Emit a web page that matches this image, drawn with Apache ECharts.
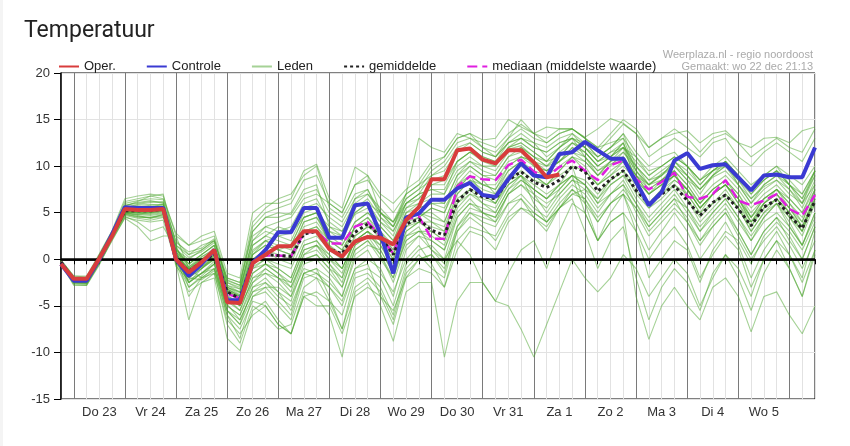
<!DOCTYPE html>
<html lang="nl">
<head>
    <meta charset="utf-8"/>
    <title>Temperatuur</title>
    <script src="https://cdn.jsdelivr.net/npm/echarts@6.0.0/dist/echarts.min.js"></script>
    <style>
        html, body { margin: 0; padding: 0; background: #f4f4f4; }
        #chart { position: absolute; left: 3px; top: 0; width: 847px; height: 446px; background: #fff; }
    </style>
</head>
<body>
<div id="chart"></div>

<script type="text/javascript">
    // dagen: de eerste stap is wo 22 18u, daarna elke 6 uur
    var days = ['Wo 22', 'Do 23', 'Vr 24', 'Za 25', 'Zo 26', 'Ma 27', 'Di 28', 'Wo 29',
        'Do 30', 'Vr 31', 'Za 1', 'Zo 2', 'Ma 3', 'Di 4', 'Wo 5', 'Do 6'];
    var hours = [18, 0, 6, 12];
    var yTicks = [-15, -10, -5, 0, 5, 10, 15, 20];

    // operationele run (stopt na za 1 06u)
    var oper = [-0.5,
        -2.1, -2.1, 0.1, 2.5, 5.4, 5.3, 5.3, 5.4, 0.0, -1.4, -0.3, 1.0,
        -4.6, -4.7, -0.4, 0.5, 1.4, 1.4, 3.0, 3.0, 1.1, 0.3, 1.9, 2.4,
        2.3, 1.6, 4.2, 5.6, 8.6, 8.6, 11.7, 11.9, 10.7, 10.3, 11.7, 11.7,
        10.4, 8.8, 9.1];

    var controle = [-0.5,
        -2.3, -2.3, 0.0, 2.7, 5.6, 5.5, 5.5, 5.5, 0.0, -1.8, -0.5, 1.0,
        -4.4, -4.4, -0.4, 1.0, 2.9, 2.9, 5.5, 5.5, 2.3, 2.3, 5.8, 6.0,
        2.7, -1.5, 4.5, 4.9, 6.4, 6.4, 7.6, 8.2, 6.9, 6.7, 8.6, 10.3,
        9.0, 8.8, 11.3, 11.5, 12.6, 11.7, 10.8, 10.8, 8.3, 5.8, 7.2, 10.6,
        11.4, 9.7, 10.1, 10.2, 8.8, 7.4, 9.0, 9.1, 8.8, 8.8, 12.0];

    var gemiddelde = [-0.3,
        -2.2, -2.2, 0.1, 2.6, 5.2, 5.2, 5.2, 5.4, 0.0, -1.3, -0.3, 0.6,
        -3.5, -4.2, -0.2, 0.5, 0.4, 0.3, 2.7, 3.0, 1.1, 0.6, 2.9, 3.8,
        2.4, 0.5, 3.8, 4.3, 3.1, 2.6, 6.2, 7.5, 6.7, 6.5, 8.5, 9.4,
        8.3, 7.7, 8.5, 10.0, 9.4, 7.3, 8.6, 9.5, 7.4, 6.0, 7.0, 7.9,
        6.3, 4.7, 6.1, 6.9, 5.4, 3.6, 5.6, 6.4, 4.7, 3.3, 6.3];

    var mediaan = [-0.3,
        -2.2, -2.2, 0.1, 2.6, 5.3, 5.3, 5.3, 5.4, 0.0, -1.3, -0.3, 0.8,
        -3.7, -4.2, -0.2, 0.4, 0.4, 0.3, 2.8, 3.0, 1.7, 1.7, 3.5, 4.0,
        2.5, 0.6, 4.3, 4.6, 2.2, 2.2, 7.8, 8.9, 8.6, 8.5, 10.1, 10.7,
        9.4, 8.8, 9.9, 10.6, 9.5, 8.5, 10.1, 10.6, 8.6, 7.5, 8.3, 9.3,
        6.7, 6.5, 7.0, 8.5, 6.3, 5.8, 6.3, 7.0, 5.4, 4.7, 6.9];

    // ensembleleden
    var leden = [
        [-0.2, -2.0, -2.1, 0.3, 2.8, 5.6, 5.8, 5.9, 5.8, 0.5, -1.0, 0.2, 1.2, -3.0, -3.8, 1.0, 2.0, 2.5, 2.8, 4.5, 5.0, 3.0, 2.5, 4.8, 5.5, 4.0, 3.0, 5.5, 6.5, 8.0, 8.5, 10.5, 11.5, 10.8, 10.2, 11.8, 12.2, 11.0, 10.0, 10.5, 11.5, 11.0, 9.5, 10.2, 11.0, 9.0, 8.0, 9.2, 10.0, 8.5, 7.5, 8.8, 9.5, 8.0, 6.5, 7.8, 8.5, 7.0, 6.0, 8.0],
        [-0.4, -2.4, -2.5, -0.2, 2.4, 5.0, 5.1, 5.3, 5.6, 1.5, 0.2, 0.8, 1.8, -2.0, -2.5, 3.0, 4.5, 5.0, 4.8, 7.0, 7.5, 5.0, 4.0, 6.5, 7.0, 5.5, 4.0, 6.0, 7.0, 9.0, 10.0, 12.0, 12.5, 11.5, 11.0, 12.5, 13.0, 12.0, 11.5, 12.5, 13.0, 12.5, 11.0, 12.0, 13.5, 10.0, 8.5, 9.0, 10.0, 8.5, 6.5, 8.0, 9.0, 7.5, 5.5, 7.0, 8.0, 6.5, 5.0, 8.0],
        [-0.3, -2.6, -2.7, -0.5, 2.2, 4.6, 4.0, 3.0, 3.5, 1.0, -2.5, -1.5, -0.5, -5.5, -7.0, -4.0, -3.0, -4.5, -6.0, -1.5, -1.0, -4.0, -7.5, -2.0, -1.5, -3.0, -6.0, -1.0, 0.5, -1.0, -2.0, 3.0, 5.0, 4.0, 3.5, 6.0, 7.0, 5.5, 4.5, 6.5, 8.0, 7.0, 5.0, 7.0, 8.5, 6.0, 3.5, 5.0, 6.5, 4.0, 2.0, 3.5, 5.0, 2.5, 0.0, 2.0, 3.5, 1.5, -1.0, 2.0],
        [-0.1, -1.8, -1.9, 0.4, 2.9, 6.0, 6.3, 6.5, 6.4, 1.8, 0.8, 1.2, 2.2, -2.5, -3.0, 2.0, 3.5, 4.0, 4.5, 6.5, 7.0, 6.0, 5.0, 8.0, 8.5, 6.5, 5.0, 7.0, 8.0, 10.0, 11.0, 13.0, 13.5, 12.0, 11.0, 13.0, 14.0, 13.0, 12.5, 13.5, 14.0, 13.0, 12.0, 12.5, 13.0, 11.0, 9.0, 10.0, 11.0, 10.0, 8.0, 9.5, 10.0, 8.5, 6.5, 8.0, 9.0, 8.0, 6.0, 9.5],
        [-0.3, -2.2, -2.3, 0.0, 2.5, 5.2, 5.0, 4.8, 5.0, -0.5, -2.0, -1.0, 0.0, -4.5, -5.5, -2.0, -1.5, -2.0, -2.5, 1.0, 1.5, 0.5, -1.0, 2.0, 3.0, 1.0, -1.5, 3.0, 4.0, 3.5, 3.0, 7.0, 8.5, 7.5, 7.0, 9.5, 10.5, 9.0, 8.0, 9.5, 11.0, 10.0, 8.0, 9.5, 10.5, 8.0, 6.0, 7.5, 9.0, 7.0, 5.0, 7.0, 8.0, 6.0, 3.5, 6.0, 7.0, 5.0, 3.0, 7.0],
        [-0.5, -2.8, -2.8, -0.4, 2.0, 4.5, 4.2, 4.0, 4.2, -0.5, -6.5, -2.5, -2.0, -8.5, -9.8, -5.5, -4.5, -6.5, -8.0, -3.5, -4.0, -6.0, -10.5, -3.5, -2.5, -5.0, -8.8, -3.5, -2.5, -2.5, -10.5, -4.5, -2.5, -2.5, -4.5, -1.5, 1.0, 2.0, -1.0, 3.0, 6.0, 5.0, 2.0, 5.0, 7.0, 4.0, 1.0, 3.0, 5.0, 3.0, 0.0, 2.0, 4.0, 1.5, -2.0, 1.0, 3.0, 0.5, -2.5, 1.0],
        [-0.2, -2.1, -2.0, 0.2, 2.7, 5.5, 5.6, 5.5, 5.6, 0.2, -1.5, -0.5, 0.8, -3.5, -4.0, 0.5, 1.5, 1.0, 0.5, 3.5, 4.0, 2.0, 1.5, 4.0, 5.0, 3.5, 2.0, 5.0, 6.0, 6.5, 6.0, 9.0, 10.5, 9.5, 9.0, 11.0, 11.5, 10.0, 9.5, 10.5, 12.0, 11.0, 9.0, 10.0, 11.5, 10.0, 8.5, 9.5, 10.5, 9.0, 7.5, 9.0, 10.0, 8.5, 7.0, 8.5, 9.5, 8.0, 6.5, 9.0],
        [-0.4, -2.3, -2.4, -0.1, 2.3, 4.8, 4.6, 4.5, 4.8, -0.2, -3.0, -2.0, -1.0, -5.0, -6.0, -3.0, -2.5, -3.5, -4.5, -0.5, 0.0, -1.5, -3.0, 1.0, 2.0, 0.5, -2.0, 2.5, 3.0, 2.0, 1.0, 5.0, 6.5, 5.0, 4.0, 7.0, 8.5, 7.5, 6.5, 8.0, 9.0, 8.0, 6.0, 8.0, 9.0, 6.5, 4.5, 6.0, 7.5, 5.5, 3.5, 5.0, 6.5, 4.5, 2.5, 4.5, 6.0, 3.5, 1.5, 5.0],
        [-0.3, -2.2, -2.2, 0.1, 2.6, 5.3, 5.4, 5.5, 5.5, 0.5, -1.2, 0.0, 0.5, -3.2, -4.0, 0.0, 1.0, 0.0, -0.5, 3.0, 3.5, 1.5, 0.5, 3.5, 4.5, 2.5, 1.0, 4.5, 5.0, 4.5, 4.0, 7.5, 9.0, 7.0, 6.0, 8.0, 9.0, 6.0, 4.0, 5.5, 6.5, 3.0, -1.0, 2.0, 3.5, -2.0, -6.5, -3.0, -1.0, -2.5, -5.5, -1.5, 0.5, -1.0, -4.0, 0.0, 2.0, 0.5, -2.0, 3.0],
        [-0.2, -1.9, -2.0, 0.5, 3.0, 6.2, 6.5, 6.8, 6.5, 2.8, 1.5, 2.0, 2.5, -2.0, -2.5, 4.0, 5.5, 6.5, 7.0, 9.0, 10.0, 5.5, 4.5, 7.0, 7.5, 5.0, 4.0, 6.5, 7.5, 9.5, 10.5, 12.5, 13.0, 12.5, 12.0, 13.5, 14.5, 13.5, 12.5, 13.5, 14.0, 13.0, 11.5, 13.0, 14.5, 13.5, 11.0, 12.0, 13.0, 12.0, 11.0, 12.5, 13.0, 11.0, 10.0, 11.5, 12.5, 11.5, 10.5, 13.0],
        [-0.3, -2.5, -2.6, -0.3, 2.3, 5.0, 4.8, 4.9, 5.1, 0.0, -2.0, -1.0, 0.0, -4.0, -4.5, -1.0, 0.0, -1.0, -2.0, 1.5, 2.0, 0.0, -1.5, 2.0, 3.0, 2.0, 0.0, 3.5, 4.0, 3.0, 2.0, 6.0, 7.0, 6.5, 6.0, 8.5, 9.5, 8.5, 8.0, 9.5, 11.0, 10.5, 9.0, 10.5, 12.0, 11.0, 9.5, 10.0, 11.0, 10.0, 8.5, 9.5, 10.5, 9.0, 7.5, 9.0, 10.0, 8.0, 6.5, 9.5],
        [-0.1, -2.0, -2.0, 0.4, 2.8, 5.8, 6.0, 6.2, 6.1, 1.2, -0.5, 0.5, 1.5, -2.8, -3.5, 2.5, 3.5, 3.0, 3.5, 6.0, 6.5, 4.0, 3.0, 5.5, 6.5, 4.5, 3.5, 6.5, 7.5, 8.5, 9.0, 11.5, 12.0, 11.0, 10.5, 12.0, 13.0, 12.5, 11.0, 12.0, 13.5, 12.0, 10.5, 11.5, 12.5, 9.0, 7.0, 8.0, 9.0, 7.5, 5.5, 7.0, 8.0, 6.5, 4.0, 6.0, 7.0, 5.5, 3.5, 7.0],
        [-0.4, -2.4, -2.5, -0.2, 2.4, 5.1, 5.0, 5.0, 5.2, 0.0, -2.5, -1.5, -1.0, -6.0, -7.5, -4.5, -5.0, -7.0, -8.0, -4.0, -3.5, -4.5, -6.0, -1.5, -1.0, -2.0, -5.0, -0.5, 1.0, 1.5, 0.0, 4.5, 6.0, 5.5, 5.0, 7.5, 9.0, 7.5, 6.5, 8.0, 10.0, 9.5, 8.0, 9.0, 10.5, 9.0, 7.0, 8.5, 9.5, 8.0, 6.0, 7.5, 8.5, 6.5, 4.5, 6.5, 7.5, 5.5, 4.0, 7.5],
        [-0.2, -2.1, -2.1, 0.2, 2.7, 5.4, 5.3, 5.4, 5.6, 0.8, -0.5, 0.5, 1.5, -3.0, -3.5, 1.5, 2.5, 2.0, 1.5, 4.5, 5.0, 3.5, 3.0, 5.0, 6.0, 5.0, 3.5, 6.0, 7.0, 7.5, 7.5, 10.0, 11.0, 10.0, 10.0, 12.0, 12.5, 11.5, 10.5, 11.0, 12.5, 11.5, 10.0, 11.0, 12.5, 8.0, 6.0, 7.0, 8.0, 7.0, 5.0, 6.0, 7.0, 5.5, 3.0, 5.0, 6.0, 4.5, 2.5, 6.0],
        [-0.3, -2.3, -2.3, 0.0, 2.5, 5.0, 4.9, 5.0, 5.3, 0.3, -1.5, -0.8, 0.3, -3.8, -5.0, -1.5, -0.5, -1.5, -3.0, 0.5, 1.0, -0.5, -2.5, 1.5, 2.5, 1.5, -1.0, 2.5, 3.5, 1.0, 0.0, 2.0, 0.5, -2.5, -4.5, -5.0, -7.5, -10.5, -7.0, -3.5, 0.0, -2.0, -3.5, -2.0, 0.5, -1.0, -4.0, -2.0, 0.0, -1.5, -5.0, -2.0, 0.5, -2.0, -5.5, -1.5, 1.0, -1.0, -4.0, 1.0],
        [-0.5, -2.7, -2.8, -0.6, 2.1, 4.4, 3.5, 2.0, 2.5, 2.5, -1.0, -2.0, -1.5, -7.0, -9.0, -5.0, -6.0, -7.5, -7.0, -3.0, -2.0, -3.0, -4.5, -1.0, -0.5, -4.0, -7.0, -2.0, 0.0, 0.5, -1.5, 3.5, 5.0, 4.5, 4.0, 6.0, 6.5, 5.0, 4.0, 5.5, 7.0, 6.5, 4.5, 6.0, 7.0, 3.0, -2.0, 0.0, 2.0, 1.0, -2.5, 1.0, 3.0, 2.0, -0.5, 2.5, 4.0, 2.5, 0.0, 3.5],
        [-0.3, -2.2, -2.3, 0.1, 2.5, 5.2, 5.1, 5.2, 5.3, -0.3, -1.8, -0.6, 0.4, -3.6, -4.4, -0.8, 0.0, -0.5, -1.0, 2.0, 2.5, 1.0, 0.0, 2.5, 3.5, 2.5, 0.5, 4.0, 4.5, 5.5, 5.0, 8.5, 10.0, 9.0, 8.5, 10.5, 11.0, 10.5, 10.0, 11.5, 12.5, 12.0, 10.5, 11.0, 12.0, 10.0, 8.0, 9.0, 10.5, 9.5, 8.0, 9.5, 10.5, 9.0, 7.0, 8.5, 9.5, 8.5, 7.0, 9.5],
        [-0.2, -2.0, -2.0, 0.3, 2.8, 5.7, 6.2, 6.8, 7.0, 1.5, 0.5, 1.5, 2.0, -2.3, -2.8, 3.5, 5.0, 5.5, 6.0, 8.5, 9.0, 6.0, 5.0, 8.0, 9.0, 5.0, 3.5, 7.0, 13.0, 12.0, 11.5, 13.5, 13.0, 12.0, 11.5, 13.0, 15.0, 13.5, 13.0, 14.0, 14.0, 13.0, 12.0, 13.5, 15.0, 14.0, 12.0, 13.0, 14.0, 13.0, 11.5, 13.0, 13.5, 12.5, 11.0, 12.0, 13.0, 12.0, 11.5, 14.0],
        [-0.4, -2.3, -2.4, -0.1, 2.4, 5.0, 5.2, 5.3, 5.4, 0.0, -2.5, -1.0, 0.5, -4.0, -5.0, -2.5, -1.5, -2.5, -4.0, 0.0, 0.5, -1.0, -2.0, 2.5, 3.5, 3.0, 1.0, 4.5, 5.0, 5.0, 4.0, 7.5, 9.0, 8.0, 8.0, 10.0, 11.0, 10.5, 9.5, 10.5, 12.0, 11.5, 10.0, 11.0, 12.5, 9.5, 7.5, 8.5, 10.0, 9.0, 7.0, 9.0, 10.5, 8.0, 6.0, 8.0, 9.0, 7.5, 5.5, 8.5],
        [-0.3, -2.4, -2.4, 0.0, 2.5, 5.1, 5.1, 5.0, 5.2, 0.2, -1.0, -0.3, 0.5, -3.4, -4.2, -1.0, -0.5, -1.0, -2.0, 1.5, 2.0, 0.5, -1.0, 2.0, 3.0, 2.0, 0.0, 3.5, 4.5, 5.5, 5.0, 8.0, 9.5, 8.5, 7.0, 9.0, 10.0, 9.0, 8.0, 9.0, 10.0, 6.0, 2.0, 4.0, 5.0, -4.0, -8.6, -5.0, -3.0, -5.0, -6.5, -3.0, -2.0, -4.0, -7.8, -4.0, -3.5, -6.0, -8.0, -5.0],
        [-0.2, -2.1, -2.2, 0.2, 2.6, 5.5, 5.7, 5.6, 5.9, 2.0, 0.5, 1.0, 2.0, -2.5, -3.2, 1.5, 2.5, 3.5, 3.0, 5.5, 6.0, 4.5, 3.5, 6.0, 7.0, 5.0, 4.0, 7.0, 8.0, 9.0, 9.5, 11.5, 12.5, 11.5, 11.0, 12.5, 13.5, 12.5, 12.0, 13.0, 13.5, 12.5, 11.0, 12.0, 13.5, 11.5, 10.0, 11.0, 11.5, 10.0, 8.5, 9.5, 10.5, 9.0, 7.5, 8.5, 9.5, 8.0, 7.0, 9.5],
        [-0.4, -2.6, -2.6, -0.3, 2.3, 4.8, 4.5, 4.5, 4.7, -0.5, -3.5, -2.5, -1.5, -6.5, -8.0, -6.0, -5.0, -7.0, -8.0, -4.0, -5.0, -5.0, -8.0, -4.0, -3.0, -4.0, -5.5, -2.0, -1.0, -1.5, -3.0, 1.0, 3.0, 2.5, 1.0, 4.0, 5.5, 4.5, 3.0, 5.5, 7.5, 6.5, 4.0, 6.0, 7.5, 5.5, 3.0, 4.5, 6.0, 4.5, 2.0, 4.0, 5.5, 3.0, 0.5, 3.0, 4.5, 3.0, 1.0, 4.0],
        [-0.3, -2.2, -2.3, 0.0, 2.6, 5.3, 5.5, 5.6, 5.5, 0.8, -0.8, 0.3, 1.0, -3.2, -4.0, 0.5, 2.0, 1.5, 1.0, 4.0, 4.5, 2.5, 1.5, 4.0, 5.0, 3.5, 2.0, 5.5, 6.0, 7.0, 7.0, 9.5, 10.5, 10.0, 9.5, 11.5, 12.0, 11.0, 10.5, 12.0, 13.0, 12.0, 10.5, 11.5, 12.0, 8.5, 7.0, 8.0, 9.0, 7.5, 5.5, 7.0, 8.0, 6.0, 4.0, 5.5, 6.5, 5.0, 3.0, 6.5],
        [-0.3, -2.3, -2.3, 0.0, 2.5, 5.2, 5.3, 5.1, 5.4, -0.8, -2.2, -1.5, -0.2, -4.8, -6.5, -3.5, -2.5, -4.0, -5.0, -1.5, -1.0, -2.0, -4.0, 0.5, 1.5, 1.0, -1.5, 2.0, 3.0, 2.5, 1.5, 5.5, 7.0, 6.0, 5.5, 8.0, 9.0, 7.0, 5.0, 7.0, 8.5, 8.0, 6.5, 8.0, 9.0, 7.5, 5.5, 6.5, 8.0, 6.5, 4.5, 6.0, 7.5, 5.5, 3.5, 5.5, 6.5, 4.5, 3.0, 6.5],
        [-0.1, -1.8, -1.8, 0.6, 3.1, 6.5, 6.8, 7.0, 6.8, 2.5, 1.5, 2.5, 3.0, -1.5, -2.0, 5.0, 6.0, 6.0, 6.5, 9.5, 10.2, 6.5, 5.5, 9.9, 9.0, 7.0, 6.0, 7.5, 8.5, 10.5, 11.0, 13.0, 13.5, 12.8, 13.0, 15.0, 14.2, 13.5, 14.2, 14.0, 14.0, 13.1, 14.0, 15.1, 14.6, 13.5, 12.0, 13.0, 13.5, 13.8, 12.5, 13.5, 13.8, 12.5, 12.0, 13.0, 13.1, 12.5, 13.8, 14.2],
        [-0.3, -2.2, -2.2, 0.1, 2.6, 5.4, 5.4, 5.6, 5.7, 1.0, -0.5, 0.5, 1.5, -2.8, -3.2, 2.0, 3.0, 2.5, 2.0, 5.0, 5.5, 3.0, 2.0, 5.0, 6.0, 4.0, 2.5, 6.0, 6.5, 8.0, 8.0, 10.5, 11.5, 11.0, 10.5, 12.5, 13.0, 12.0, 11.5, 12.5, 13.0, 12.0, 11.0, 12.0, 13.0, 9.5, 8.0, 8.5, 9.5, 8.0, 6.0, 7.5, 8.5, 7.0, 4.5, 6.5, 7.5, 6.0, 4.0, 7.5],
        [-0.4, -2.5, -2.5, -0.2, 2.4, 4.9, 4.8, 4.7, 4.9, 0.5, -4.0, -2.0, -1.0, -5.5, -6.5, -3.5, -3.0, -3.0, -4.0, -1.0, -1.5, -3.0, -5.0, -1.0, 0.0, -1.0, -4.0, 1.0, 2.5, 1.0, -0.5, 3.5, 5.5, 5.0, 4.5, 7.0, 8.0, 6.5, 5.5, 7.5, 9.0, 8.5, 7.0, 8.5, 9.5, 8.0, 6.0, 7.5, 8.5, 7.5, 5.5, 7.0, 8.0, 6.5, 4.5, 6.0, 7.0, 5.5, 3.5, 6.5],
        [-0.2, -2.0, -2.1, 0.3, 2.7, 5.6, 5.5, 5.3, 5.5, 0.3, -1.0, 0.0, 1.0, -3.3, -4.2, 0.0, 1.0, 0.5, 0.0, 3.0, 3.5, 2.0, 1.0, 3.5, 4.5, 3.0, 1.5, 5.0, 5.5, 6.0, 6.0, 9.0, 10.0, 9.0, 9.0, 11.0, 12.0, 11.0, 10.0, 11.0, 12.5, 11.5, 10.0, 11.0, 12.0, 10.5, 9.0, 10.0, 11.0, 10.0, 8.5, 10.0, 11.0, 9.5, 8.0, 9.0, 10.0, 9.0, 8.0, 10.0],
        [-0.3, -2.4, -2.5, -0.2, 2.4, 5.0, 4.7, 4.4, 4.6, 0.8, -3.0, -1.8, -0.5, -5.0, -6.0, -2.5, -1.0, -2.0, -3.5, 0.5, 1.5, -0.5, -2.0, 1.5, 2.5, 0.5, -2.5, 1.5, 2.5, 2.0, 1.0, 4.5, 6.0, 5.0, 4.5, 7.0, 8.0, 7.0, 6.0, 7.0, 8.5, 7.5, 5.5, 7.0, 8.0, 6.0, 4.0, 5.5, 7.0, 5.0, 3.0, 4.5, 6.0, 4.0, 2.0, 4.0, 5.0, 3.5, 1.5, 4.5],
        [-0.2, -2.1, -2.2, 0.2, 2.6, 5.5, 5.9, 6.1, 6.2, 1.2, -0.8, 0.0, 1.0, -3.0, -3.6, 0.8, 2.0, 1.0, 0.5, 4.0, 4.5, 2.0, 1.0, 3.5, 4.0, 2.0, 0.5, 4.0, 5.0, 4.0, 3.5, 7.0, 8.5, 8.0, 7.5, 9.5, 10.5, 9.5, 9.0, 10.0, 11.0, 9.5, 8.0, 9.0, 10.0, 8.5, 7.0, 8.0, 9.0, 7.5, 6.0, 7.5, 8.5, 7.0, 5.0, 6.5, 7.5, 6.5, 5.0, 7.5],
        [-0.4, -2.5, -2.6, -0.3, 2.3, 4.7, 4.4, 4.2, 4.5, 1.5, -2.0, -2.2, -1.2, -6.0, -8.5, -4.0, -3.5, -5.0, -6.5, -2.0, -1.5, -2.5, -4.0, 0.0, 1.0, -1.5, -3.5, 0.0, 1.5, -0.5, -3.0, 2.0, 3.5, 3.0, 2.5, 5.0, 6.5, 4.5, 3.5, 5.5, 7.0, 7.5, 6.5, 8.5, 9.5, 7.0, 5.5, 7.0, 8.5, 7.5, 5.5, 7.0, 8.0, 6.5, 4.0, 6.0, 7.5, 6.0, 4.5, 7.0],
        [-0.3, -2.3, -2.3, 0.0, 2.5, 5.2, 5.2, 5.2, 5.3, 0.0, -1.5, -1.0, 0.2, -4.2, -5.0, -1.5, -0.5, -1.5, -2.5, 1.0, 1.5, 0.0, -1.0, 2.0, 3.0, 1.5, -0.5, 3.0, 4.0, 4.0, 3.0, 6.5, 7.5, 6.0, 5.0, 7.5, 8.5, 7.5, 6.5, 7.5, 9.0, 8.0, 6.0, 7.0, 8.0, 5.0, 2.5, 4.0, 5.5, 4.0, 1.5, 3.5, 5.0, 3.0, 0.5, 3.0, 4.5, 2.0, 0.0, 3.5],
        [-0.2, -2.0, -2.0, 0.4, 2.9, 5.8, 6.1, 6.3, 6.0, 1.0, 0.0, 1.0, 2.0, -2.2, -2.8, 3.0, 4.5, 4.5, 5.0, 7.5, 8.0, 3.5, 2.5, 6.5, 7.5, 4.5, 3.0, 6.0, 7.0, 7.5, 7.0, 10.5, 11.5, 10.5, 10.0, 12.0, 12.5, 11.5, 10.5, 12.0, 13.0, 11.0, 9.5, 10.5, 11.5, 9.5, 8.0, 9.0, 10.5, 9.0, 7.5, 9.0, 10.0, 8.0, 6.0, 7.5, 8.5, 7.5, 6.0, 9.0],
        [-0.4, -2.5, -2.5, -0.2, 2.4, 4.9, 4.6, 4.4, 4.8, 0.8, -2.5, -1.5, -0.5, -5.5, -7.0, -3.0, -2.0, -3.5, -5.5, -1.5, -2.0, -4.5, -7.5, -3.0, -2.0, -3.5, -6.5, -1.5, 0.0, 0.5, -1.0, 3.0, 4.5, 3.5, 2.0, 4.5, 5.5, 5.0, 4.0, 6.0, 7.5, 6.0, 4.0, 6.0, 7.0, 5.5, 3.5, 5.0, 6.5, 5.5, 3.0, 5.0, 6.5, 4.5, 2.0, 4.5, 6.0, 4.0, 1.5, 5.0],
        [-0.3, -2.2, -2.2, 0.1, 2.6, 5.3, 5.6, 5.8, 5.9, 0.6, -1.0, -0.2, 0.8, -3.2, -3.9, 0.5, 1.5, 1.0, 1.5, 4.5, 5.0, 1.5, 0.0, 3.5, 4.0, 2.5, 0.5, 4.5, 5.5, 6.0, 5.5, 8.0, 9.0, 8.0, 7.5, 10.0, 11.0, 10.0, 9.5, 10.5, 11.5, 10.5, 9.0, 10.5, 11.0, 9.0, 7.5, 8.5, 9.5, 6.5, 4.0, 5.5, 7.0, 5.5, 3.0, 5.0, 6.5, 5.0, 3.5, 6.0],
        [-0.3, -2.3, -2.4, -0.1, 2.4, 5.1, 5.0, 5.1, 5.3, 0.3, -1.8, -0.8, 0.0, -4.2, -5.5, -2.0, -1.0, -2.0, -3.0, 0.0, 0.5, -1.0, -3.0, 1.0, 2.0, 0.0, -2.0, 2.0, 3.0, 3.0, 2.0, 6.0, 7.5, 7.0, 6.0, 8.5, 9.0, 8.0, 7.0, 8.0, 9.0, 5.0, 2.0, 4.0, 5.0, 3.0, 0.0, 2.0, 3.5, 1.5, -2.0, 0.5, 2.5, 1.0, -3.0, 0.0, 2.0, -1.0, -4.0, 0.5]
    ];

    var categories = [];
    for (var i = 0; i < 60; i++) {
        categories.push(days[Math.floor((i + 3) / 4)] + ' ' + hours[i % 4] + 'u');
    }

    var chart = echarts.init(document.getElementById('chart'));
    var font = 'Liberation Sans, Arial, sans-serif';

    var series = [];
    leden.forEach(function (lid) {
        series.push({
            name: 'Leden', type: 'line', data: lid, symbol: 'none',
            lineStyle: {color: '#4ca62e', width: 1.1, opacity: 0.5},
            itemStyle: {color: '#4ca62e'},
            emphasis: {disabled: true}, silent: true, z: 2
        });
    });
    series.push({
        name: 'mediaan (middelste waarde)', type: 'line', data: mediaan, symbol: 'none',
        lineStyle: {color: '#e01ee0', width: 2.5, type: [10, 5]},
        itemStyle: {color: '#e01ee0'},
        emphasis: {disabled: true}, silent: true, z: 3,
        markLine: {
            silent: true, symbol: 'none', label: {show: false},
            lineStyle: {color: '#000', width: 2.5, type: 'solid'},
            data: [{yAxis: 0}]
        }
    });
    series.push({
        name: 'gemiddelde', type: 'line', data: gemiddelde, symbol: 'none',
        lineStyle: {color: '#222', width: 3, type: [3, 3]},
        itemStyle: {color: '#222'},
        emphasis: {disabled: true}, silent: true, z: 4
    });
    series.push({
        name: 'Controle', type: 'line', data: controle, symbol: 'none',
        lineStyle: {color: '#3a3ad2', width: 4},
        itemStyle: {color: '#3a3ad2'},
        emphasis: {disabled: true}, silent: true, z: 5
    });
    series.push({
        name: 'Oper.', type: 'line', data: oper, symbol: 'none',
        lineStyle: {color: '#d83c3c', width: 4},
        itemStyle: {color: '#d83c3c'},
        emphasis: {disabled: true}, silent: true, z: 6
    });

    chart.setOption({
        animation: false,
        title: {
            text: 'Temperatuur', left: 16, top: 15,
            textStyle: {fontFamily: 'Roboto', fontSize: 23, fontWeight: 'normal', color: '#222'}
        },
        legend: {
            data: ['Oper.', 'Controle', 'Leden', 'gemiddelde', 'mediaan (middelste waarde)'],
            left: 50, top: 55, itemWidth: 20, itemHeight: 10, itemGap: 30,
            selectedMode: false,
            itemStyle: {opacity: 0},
            textStyle: {fontFamily: font, fontSize: 13, color: '#222'}
        },
        graphic: [
            {type: 'text', right: 37, top: 49,
                style: {text: 'Weerplaza.nl - regio noordoost', fill: '#aaa', font: '11px ' + font}},
            {type: 'text', right: 37, top: 61,
                style: {text: 'Gemaakt: wo 22 dec 21:13', fill: '#aaa', font: '11px ' + font}}
        ],
        grid: {left: 58, right: 35, top: 73, bottom: 47, show: true, borderColor: '#000', borderWidth: 1},
        xAxis: [
            {
                type: 'category', data: categories, boundaryGap: false,
                axisLine: {lineStyle: {color: '#000', width: 1.5}},
                axisTick: {show: true, interval: 0, length: 5, lineStyle: {color: '#000'}},
                axisLabel: {
                    interval: 0, margin: 7, color: '#333', fontFamily: font, fontSize: 13,
                    formatter: function (value, index) {
                        return (index % 4 === 3 && index < 56) ? value.split(' ').slice(0, 2).join(' ') : '';
                    }
                },
                splitLine: {show: true, interval: 0, lineStyle: {color: '#e2e2e2'}}
            },
            {
                type: 'category', data: categories, boundaryGap: false, position: 'bottom',
                axisLine: {show: false}, axisTick: {show: false}, axisLabel: {show: false},
                splitLine: {
                    show: true, lineStyle: {color: '#7a7a7a'},
                    interval: function (index) { return index % 4 === 1; }
                }
            }
        ],
        yAxis: {
            type: 'value', min: yTicks[0], max: yTicks[yTicks.length - 1], interval: 5,
            axisLine: {show: true, lineStyle: {color: '#000', width: 1.5}},
            axisTick: {show: true, length: 7, lineStyle: {color: '#000'}},
            axisLabel: {margin: 11, color: '#333', fontFamily: font, fontSize: 13},
            splitLine: {lineStyle: {color: '#e2e2e2'}}
        },
        series: series
    });
</script>
</body>
</html>
